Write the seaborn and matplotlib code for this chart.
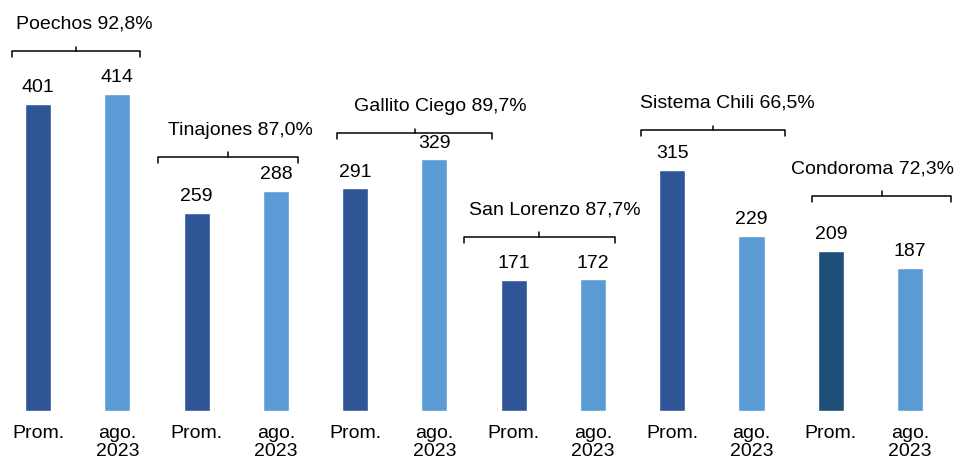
import matplotlib.pyplot as plt
import pandas as pd
import seaborn as sns

# Embalses: promedio vs ago. 2023 (hm3)
reservoirs = ["Poechos", "Tinajones", "Gallito Ciego", "San Lorenzo", "Sistema Chili", "Condoroma"]
pct = ["92,8%", "87,0%", "89,7%", "87,7%", "66,5%", "72,3%"]
prom = [401, 259, 291, 171, 315, 209]
ago = [414, 288, 329, 172, 229, 187]
periods = ["Prom.", "ago.\n2023"]

# bracket layout (data units): height, left/right overhang, label shift
bracket_y = [470, 332, 363, 228, 367, 281]
bracket_left = [0.33, 0.49, 0.23, 0.63, 0.39, 0.24]
bracket_right = [0.28, 0.28, 0.73, 0.28, 0.42, 0.52]
label_dx = [0.11, 0.16, 0.33, 0.20, 0.18, -0.12]

rows = []
for r, p, a in zip(reservoirs, prom, ago):
    rows.append({"bar": f"{r}|Prom.", "value": p})
    rows.append({"bar": f"{r}|ago.", "value": a})
df = pd.DataFrame(rows)

dark, light, navy = "#2F5597", "#5B9BD5", "#1F4E79"
palette = {}
for r in reservoirs:
    palette[f"{r}|Prom."] = navy if r == "Condoroma" else dark
    palette[f"{r}|ago."] = light

sns.set_theme(style="white")
plt.rcParams["font.family"] = ["Liberation Sans", "DejaVu Sans"]

fig = plt.figure(figsize=(9.6, 4.58), dpi=100)
ax = fig.add_axes([0, 0.1026, 1, 0.8974])
sns.barplot(data=df, x="bar", y="value", hue="bar", palette=palette,
            order=df["bar"], width=0.33, legend=False, saturation=1, ax=ax)

ax.set_xlim(-0.48, 11.63)
ax.set_ylim(0, 537)
for s in ax.spines.values():
    s.set_visible(False)
ax.set_yticks([])
ax.set_xlabel("")
ax.set_ylabel("")
ax.set_xticks(range(len(df)))
ax.set_xticklabels(periods * len(reservoirs), fontsize=14, color="black",
                   linespacing=1.05, va="top")
ax.tick_params(axis="x", length=0, pad=10)

# value labels
for i, v in enumerate(df["value"]):
    ax.text(i, v + 10, str(v), ha="center", va="bottom", fontsize=14, color="black")

# brackets with reservoir names
for k, (r, p) in enumerate(zip(reservoirs, pct)):
    by = bracket_y[k]
    x0 = 2 * k - bracket_left[k]
    x1 = 2 * k + 1 + bracket_right[k]
    xc = (x0 + x1) / 2
    ax.plot([x0, x0, x1, x1], [by - 8, by, by, by - 8], color="black", lw=1.1,
            clip_on=False)
    ax.plot([xc, xc], [by, by + 6], color="black", lw=1.1, clip_on=False)
    ax.text(xc + label_dx[k], by + 24, f"{r} {p}", ha="center", va="bottom",
            fontsize=14, color="black")

fig.savefig("out.png", dpi=100)
